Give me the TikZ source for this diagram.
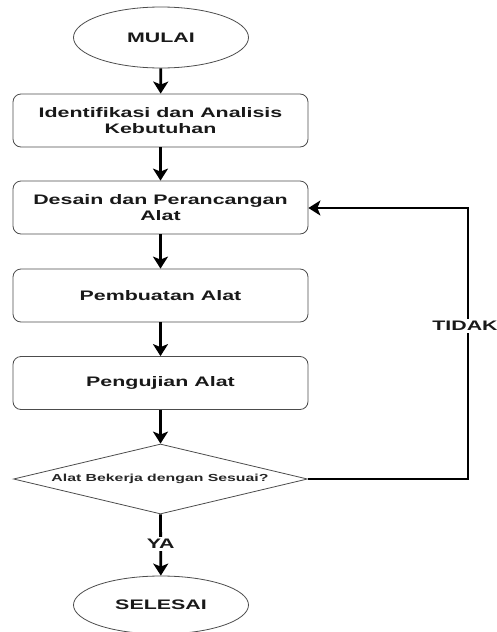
\documentclass[tikz,border=0pt]{standalone}
\usepackage{fontspec}
\setmainfont{Liberation Sans}[FakeStretch=1.55]
\usetikzlibrary{shapes.geometric,arrows.meta}
\tikzset{
  term/.style={ellipse,draw=black!70,line width=0.8pt,minimum width=175pt,minimum height=61pt,inner sep=0pt,font=\fontsize{13.8}{16}\selectfont\bfseries,text=black!90},
  proc/.style={rectangle,rounded corners=8pt,draw=black!70,line width=0.8pt,minimum width=295pt,minimum height=53pt,inner sep=0pt,align=center,font=\fontsize{13.8}{16}\selectfont\bfseries,text=black!90},
  dec/.style={diamond,draw=black!70,line width=0.8pt,minimum width=294pt,minimum height=70pt,inner sep=0pt,shape aspect=4.2},
  flow/.style={line width=2.8pt,-{Stealth[width=15pt,length=12pt,inset=3pt]}},
  lab/.style={fill=white,inner sep=2pt,font=\fontsize{13.8}{16}\selectfont\bfseries,text=black!90}
}
\begin{document}
\begin{tikzpicture}[x=1pt,y=1pt]
\useasboundingbox (0,0) rectangle (497,-632);
\node[term] (start) at (161,-37.5) {MULAI};
\node[proc] (p1) at (160.5,-120.5) {Identifikasi dan Analisis\\Kebutuhan};
\node[proc] (p2) at (160.5,-207.5) {Desain dan Perancangan\\Alat};
\node[proc] (p3) at (160.5,-295.5) {Pembuatan Alat};
\node[proc] (p4) at (160.5,-383) {Pengujian Alat};
\node[dec] (d) at (160.5,-479) {};
\node[font=\fontsize{10.2}{12}\selectfont\bfseries,text=black!85] (dt) at (160,-479) {Alat Bekerja dengan Sesuai?};
\node[term,minimum height=58pt] (end) at (161,-605) {SELESAI};
\coordinate (c1) at (468,-479);
\coordinate (c2) at (468,-208);
\draw[flow] (start) -- (p1);
\draw[flow] (p1) -- (p2);
\draw[flow] (p2) -- (p3);
\draw[flow] (p3) -- (p4);
\draw[flow] (p4) -- (d);
\draw[flow] (d.south) -- node[lab,pos=0.48] {YA} (end);
\draw[flow] (d.east) -- (c1) -- (c2) -- (p2.east |- c2);
\node[lab,xshift=-3pt] (tidak) at (468,-326) {TIDAK};
\end{tikzpicture}
\end{document}
